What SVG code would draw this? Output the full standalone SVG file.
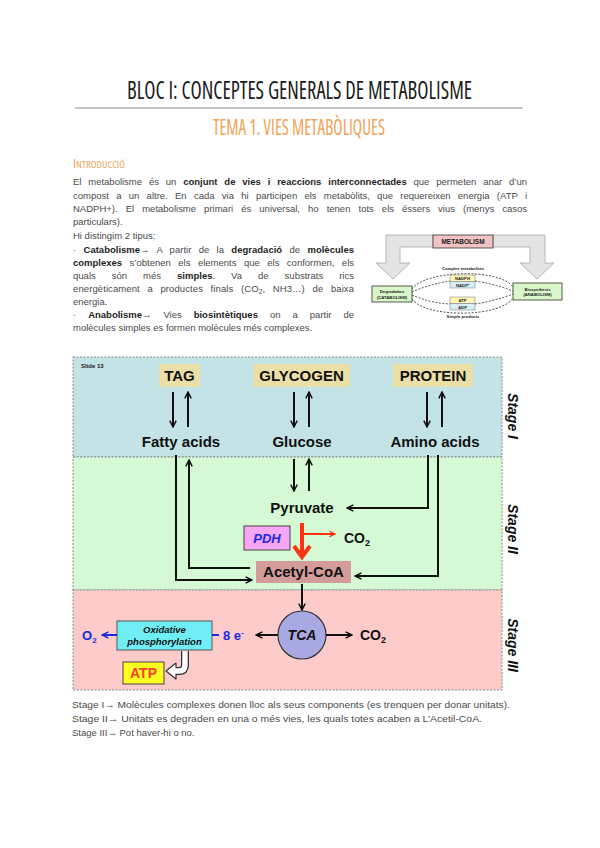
<svg xmlns="http://www.w3.org/2000/svg" width="600" height="848" viewBox="0 0 600 848">
<defs>
<style>
.body{font-family:"Liberation Sans",Arial,sans-serif;font-size:9.5px;fill:#4a4a4a}
.b{font-weight:bold;fill:#1e1e1e}
.title{font-family:"Open Sans","DejaVu Sans",sans-serif;font-weight:400;font-stretch:75%;fill:#1c1c1c}
.orange{font-family:"Open Sans","DejaVu Sans",sans-serif;font-weight:400;font-stretch:75%;fill:#f0a35a}
.dia{font-family:"Liberation Sans",Arial,sans-serif;font-weight:bold;fill:#111}
.big{font-size:15px}
.stage{font-family:"Liberation Sans",Arial,sans-serif;font-weight:bold;font-style:italic;font-size:14px;fill:#111}
.blue{fill:#1a2ae0}
.ln{fill:none;stroke:#111;stroke-width:2}
.band{stroke:#8a8a8a;stroke-width:1;stroke-dasharray:2 1.5}
.tiny{font-family:"Liberation Sans",Arial,sans-serif;font-weight:bold;font-size:4.2px;fill:#222}
.dash{fill:none;stroke:#222;stroke-width:0.8;stroke-dasharray:2 1.5}
</style>
<marker id="ah" viewBox="0 0 10 10" refX="9" refY="5" markerWidth="8" markerHeight="8" orient="auto-start-reverse" markerUnits="userSpaceOnUse">
<path d="M1,1 L9,5 L1,9" fill="none" stroke="#111" stroke-width="1.8"/>
</marker>
<marker id="ahb" viewBox="0 0 10 10" refX="9" refY="5" markerWidth="8" markerHeight="8" orient="auto-start-reverse" markerUnits="userSpaceOnUse">
<path d="M1,1 L9,5 L1,9" fill="none" stroke="#1a2ae0" stroke-width="1.8"/>
</marker>
<marker id="ahr" viewBox="0 0 10 10" refX="9" refY="5" markerWidth="7" markerHeight="7" orient="auto-start-reverse" markerUnits="userSpaceOnUse">
<path d="M1,1 L9,5 L1,9" fill="none" stroke="#ff3311" stroke-width="1.8"/>
</marker>
</defs>
<rect width="600" height="848" fill="#fff"/>

<!-- Header -->
<g id="header">
<text class="title" x="127" y="99" font-size="26" textLength="345" lengthAdjust="spacingAndGlyphs">BLOC I: CONCEPTES GENERALS DE METABOLISME</text>
<line x1="75" y1="108" x2="523" y2="108" stroke="#8c8c8c" stroke-width="1"/>
<text class="orange" x="213" y="135" font-size="22" textLength="172" lengthAdjust="spacingAndGlyphs">TEMA 1. VIES METABÒLIQUES</text>
<text class="orange" x="73" y="168" font-size="12" textLength="52" lengthAdjust="spacingAndGlyphs">I<tspan font-size="9.5">NTRODUCCIÓ</tspan></text>
</g>

<!-- Intro text -->
<g id="intro" class="body">
<text x="73" y="185" word-spacing="4.3" textLength="454" lengthAdjust="spacing">El metabolisme és un <tspan class="b">conjunt de vies i reaccions interconnectades</tspan> que permeten anar d’un</text>
<text x="73" y="199" word-spacing="4.6" textLength="454" lengthAdjust="spacing">compost a un altre. En cada via hi participen els metabòlits, que requereixen energia (ATP i</text>
<text x="73" y="212" word-spacing="5.4" textLength="454" lengthAdjust="spacing">NADPH+). El metabolisme primari és universal, ho tenen tots els éssers vius (menys casos</text>
<text x="73" y="225">particulars).</text>
<text x="73" y="239">Hi distingim 2 tipus:</text>
<text x="73" y="252.5" word-spacing="4.7" textLength="281" lengthAdjust="spacing">· <tspan class="b">Catabolisme</tspan>→ A partir de la <tspan class="b">degradació</tspan> de <tspan class="b">molècules</tspan></text>
<text x="73" y="265.5" word-spacing="4.8" textLength="281" lengthAdjust="spacing"><tspan class="b">complexes</tspan> s’obtenen els elements que els conformen, els</text>
<text x="73" y="278.5" word-spacing="13.3" textLength="281" lengthAdjust="spacing">quals són més <tspan class="b">simples</tspan>. Va de substrats rics</text>
<text x="73" y="291.5" word-spacing="4.9" textLength="281" lengthAdjust="spacing">energèticament a productes finals (CO<tspan font-size="6.5" dy="2">2</tspan><tspan dy="-2">, NH3…) de baixa</tspan></text>
<text x="73" y="304.5">energia.</text>
<text x="73" y="317.5" word-spacing="9.4" textLength="281" lengthAdjust="spacing">· <tspan class="b">Anabolisme</tspan>→ Vies <tspan class="b">biosintètiques</tspan> on a partir de</text>
<text x="73" y="330.5">molècules simples es formen molècules més complexes.</text>
</g>

<!-- Small metabolism diagram -->
<g id="mini-arrows">
<path d="M386,235 H433 V247 H400 V263 H410 L393,279 L376,263 H386 Z" fill="#e4e4e4" stroke="#a8a8a8" stroke-width="0.8"/>
<path d="M545,235 H493 V247 H530 V263 H520 L537,279 L554,263 H545 Z" fill="#e4e4e4" stroke="#a8a8a8" stroke-width="0.8"/>
</g>
<g id="mini-metabolism">
<rect x="433" y="235" width="60" height="13" fill="#f3c3c3" stroke="#333" stroke-width="0.8"/>
<text x="463" y="244" text-anchor="middle" font-family="Liberation Sans, Arial, sans-serif" font-weight="bold" font-size="6.5" fill="#222">METABOLISM</text>
</g>
<g id="mini-links">
<path class="dash" d="M412,289 C425,270 500,268 513,287"/>
<path class="dash" d="M412,299 C425,318 500,318 513,298"/>
<path class="dash" d="M412,292 Q430,284 450,281"/>
<path class="dash" d="M475,281 Q495,284 513,291"/>
<path class="dash" d="M412,295 Q430,303 450,304"/>
<path class="dash" d="M475,304 Q495,301 513,294"/>
</g>
<g id="mini-catabolism">
<rect x="372" y="286" width="40" height="16" fill="#d9f7c9" stroke="#333" stroke-width="0.8"/>
<text class="tiny" x="392" y="293" text-anchor="middle">Degradation</text>
<text class="tiny" x="392" y="298.5" text-anchor="middle">(CATABOLISM)</text>
</g>
<g id="mini-anabolism">
<rect x="513" y="283" width="49" height="17" fill="#d9f7c9" stroke="#333" stroke-width="0.8"/>
<text class="tiny" x="537.5" y="290.5" text-anchor="middle">Biosynthesis</text>
<text class="tiny" x="537.5" y="296" text-anchor="middle">(ANABOLISM)</text>
</g>
<g id="mini-labels">
<text class="tiny" x="463" y="270" text-anchor="middle">Complex metabolites</text>
<text class="tiny" x="463" y="318" text-anchor="middle">Simple products</text>
</g>
<g id="mini-cofactors">
<rect x="450" y="275" width="25" height="6.5" fill="#fff5b5" stroke="#777" stroke-width="0.5"/>
<rect x="450" y="281.5" width="25" height="6.5" fill="#d6eef8" stroke="#777" stroke-width="0.5"/>
<text class="tiny" x="462.5" y="280" text-anchor="middle">NADPH</text>
<text class="tiny" x="462.5" y="286.5" text-anchor="middle">NADP⁺</text>
<rect x="450" y="297" width="25" height="6.5" fill="#fff5b5" stroke="#777" stroke-width="0.5"/>
<rect x="450" y="303.5" width="25" height="6.5" fill="#d6eef8" stroke="#777" stroke-width="0.5"/>
<text class="tiny" x="462.5" y="302" text-anchor="middle">ATP</text>
<text class="tiny" x="462.5" y="308.5" text-anchor="middle">ADP</text>
</g>

<!-- Big diagram: stage bands -->
<g id="bands">
<rect class="band" x="73" y="357" width="429" height="100" fill="#c3e3e6"/>
<rect class="band" x="73" y="457" width="429" height="133" fill="#d4f9d4"/>
<rect class="band" x="73" y="590" width="429" height="100" fill="#fecbcb"/>
<text x="81" y="368" font-family="Liberation Sans, Arial, sans-serif" font-weight="bold" font-size="6" fill="#222">Slide 13</text>
</g>
<g id="stage-labels">
<text class="stage" transform="translate(508,416) rotate(90)" text-anchor="middle">Stage I</text>
<text class="stage" transform="translate(508,529) rotate(90)" text-anchor="middle">Stage II</text>
<text class="stage" transform="translate(508,645) rotate(90)" text-anchor="middle">Stage III</text>
</g>

<!-- Nodes -->
<g id="tag">
<rect x="159" y="364" width="41" height="23" fill="#ebdfa8"/>
<text class="dia big" x="179.5" y="381" text-anchor="middle">TAG</text>
</g>
<g id="glycogen">
<rect x="253" y="364" width="97" height="23" fill="#ebdfa8"/>
<text class="dia big" x="301.5" y="381" text-anchor="middle">GLYCOGEN</text>
</g>
<g id="protein">
<rect x="393" y="364" width="80" height="23" fill="#ebdfa8"/>
<text class="dia big" x="433" y="381" text-anchor="middle">PROTEIN</text>
</g>
<g id="fatty-acids"><text class="dia big" x="181" y="447" text-anchor="middle">Fatty acids</text></g>
<g id="glucose"><text class="dia big" x="302" y="447" text-anchor="middle">Glucose</text></g>
<g id="amino-acids"><text class="dia big" x="435" y="447" text-anchor="middle">Amino acids</text></g>
<g id="pyruvate"><text class="dia big" x="302" y="513" text-anchor="middle">Pyruvate</text></g>
<g id="pdh">
<rect x="244" y="526" width="46" height="24" fill="#f6a6f2" stroke="#444" stroke-width="1"/>
<text x="267" y="543" text-anchor="middle" font-family="Liberation Sans, Arial, sans-serif" font-weight="bold" font-style="italic" font-size="13" class="blue">PDH</text>
</g>
<g id="co2-pdh"><text class="dia" x="344" y="543" font-size="14">CO<tspan font-size="9" dy="3">2</tspan></text></g>
<g id="acetyl-coa">
<rect x="256" y="561" width="95" height="22" fill="#d39c9a"/>
<text class="dia big" x="303.5" y="577" text-anchor="middle">Acetyl-CoA</text>
</g>
<g id="tca">
<circle cx="302" cy="635" r="24" fill="#a8a8e3" stroke="#333" stroke-width="1.2"/>
<text x="302" y="640" text-anchor="middle" font-family="Liberation Sans, Arial, sans-serif" font-weight="bold" font-style="italic" font-size="14" fill="#111">TCA</text>
</g>
<g id="co2-tca"><text class="dia" x="360" y="640" font-size="14">CO<tspan font-size="9" dy="3">2</tspan></text></g>
<g id="electrons"><text class="dia blue" x="223" y="640" font-size="13">8 e<tspan font-size="8" dy="-5">-</tspan></text></g>
<g id="oxphos">
<rect x="117" y="621" width="95" height="29" fill="#70eef5" stroke="#555" stroke-width="1"/>
<text x="164.5" y="633" text-anchor="middle" font-family="Liberation Sans, Arial, sans-serif" font-weight="bold" font-style="italic" font-size="9.5" fill="#111">Oxidative</text>
<text x="164.5" y="645" text-anchor="middle" font-family="Liberation Sans, Arial, sans-serif" font-weight="bold" font-style="italic" font-size="9.5" fill="#111">phosphorylation</text>
</g>
<g id="o2"><text class="dia blue" x="82" y="640" font-size="13">O<tspan font-size="8" dy="3">2</tspan></text></g>
<g id="atp">
<rect x="123" y="662" width="41" height="22" fill="#ffff22" stroke="#444" stroke-width="1"/>
<text x="143.5" y="678" text-anchor="middle" font-family="Liberation Sans, Arial, sans-serif" font-weight="bold" font-size="14" fill="#ff3b2a">ATP</text>
</g>

<!-- Connectors -->
<g id="connectors">
<line class="ln" x1="173" y1="392" x2="173" y2="427" marker-end="url(#ah)"/>
<line class="ln" x1="188" y1="427" x2="188" y2="392" marker-end="url(#ah)"/>
<line class="ln" x1="294" y1="392" x2="294" y2="427" marker-end="url(#ah)"/>
<line class="ln" x1="309" y1="427" x2="309" y2="392" marker-end="url(#ah)"/>
<line class="ln" x1="427" y1="392" x2="427" y2="427" marker-end="url(#ah)"/>
<line class="ln" x1="442" y1="427" x2="442" y2="392" marker-end="url(#ah)"/>

<line class="ln" x1="294" y1="459" x2="294" y2="491" marker-end="url(#ah)"/>
<line class="ln" x1="309" y1="491" x2="309" y2="459" marker-end="url(#ah)"/>

<polyline class="ln" points="176,455 176,580 252,580" marker-end="url(#ah)"/>
<polyline class="ln" points="250,568 189,568 189,460" marker-end="url(#ah)"/>
<polyline class="ln" points="428,455 428,508 347,508" marker-end="url(#ah)"/>
<polyline class="ln" points="438,455 438,576 355,576" marker-end="url(#ah)"/>

<line x1="302" y1="523" x2="302" y2="553" stroke="#ff3311" stroke-width="4"/>
<path d="M294,546 L302,557 L310,546" fill="none" stroke="#ff3311" stroke-width="4" stroke-linejoin="miter"/>
<line x1="302" y1="534" x2="335" y2="534" stroke="#ff3311" stroke-width="1.8" marker-end="url(#ahr)"/>

<line class="ln" x1="302" y1="584" x2="302" y2="610" marker-end="url(#ah)"/>
<line class="ln" x1="278" y1="635" x2="256" y2="635" marker-end="url(#ah)"/>
<line class="ln" x1="326" y1="635" x2="352" y2="635" marker-end="url(#ah)"/>
<line x1="212" y1="635" x2="219" y2="635" stroke="#1a2ae0" stroke-width="2"/>
<line x1="117" y1="635" x2="102" y2="635" stroke="#1a2ae0" stroke-width="2" marker-end="url(#ahb)"/>

<path d="M185,651 V665 Q185,671 179,671 H175" fill="none" stroke="#333" stroke-width="8"/>
<path d="M176,663 L166,671 L176,679 Z" fill="#fff" stroke="#333" stroke-width="1.2" stroke-linejoin="round"/>
<path d="M185,651 V665 Q185,671 179,671 H174" fill="none" stroke="#fff" stroke-width="5.4"/>
</g>

<!-- Bottom notes -->
<g id="notes" class="body">
<text x="72" y="708" textLength="438" lengthAdjust="spacingAndGlyphs">Stage I→ Molècules complexes donen lloc als seus components (es trenquen per donar unitats).</text>
<text x="72" y="722" textLength="410" lengthAdjust="spacingAndGlyphs">Stage II→ Unitats es degraden en una o més vies, les quals totes acaben a L’Acetil-CoA.</text>
<text x="72" y="736">Stage III→ Pot haver-hi o no.</text>
</g>
</svg>
